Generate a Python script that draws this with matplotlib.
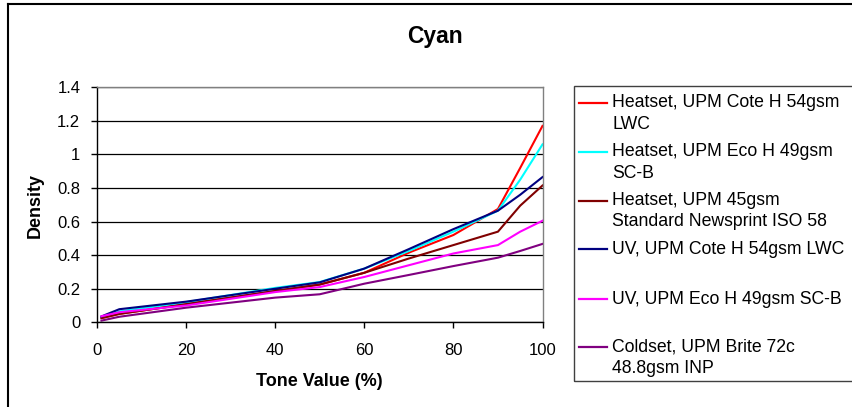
import matplotlib
matplotlib.use("Agg")
import matplotlib.pyplot as plt
from matplotlib.lines import Line2D
from matplotlib.patches import Rectangle

plt.rcParams['font.family'] = ['Liberation Sans', 'DejaVu Sans']

tone = [1, 5, 20, 40, 50, 60, 70, 80, 90, 95, 100]

heatset_cote = [0.025, 0.05, 0.108, 0.185, 0.225, 0.295, 0.415, 0.52, 0.675, 0.92, 1.17]
heatset_eco = [0.03, 0.065, 0.12, 0.205, 0.24, 0.32, 0.425, 0.54, 0.665, 0.85, 1.06]
heatset_news = [0.025, 0.05, 0.108, 0.187, 0.225, 0.295, 0.38, 0.46, 0.54, 0.695, 0.815]
uv_cote = [0.035, 0.078, 0.123, 0.2, 0.238, 0.32, 0.436, 0.555, 0.665, 0.76, 0.865]
uv_eco = [0.036, 0.06, 0.1, 0.18, 0.21, 0.27, 0.34, 0.41, 0.46, 0.54, 0.605]
coldset = [0.01, 0.033, 0.087, 0.147, 0.167, 0.23, 0.282, 0.335, 0.385, 0.425, 0.467]

series = [heatset_cote, heatset_eco, heatset_news, uv_cote, uv_eco, coldset]
labels = [
    ["Heatset, UPM Cote H 54gsm", "LWC"],
    ["Heatset, UPM Eco H 49gsm", "SC-B"],
    ["Heatset, UPM 45gsm", "Standard Newsprint ISO 58"],
    ["UV, UPM Cote H 54gsm LWC"],
    ["UV, UPM Eco H 49gsm SC-B"],
    ["Coldset, UPM Brite 72c", "48.8gsm INP"],
]
colors = ["#FF0000", "#00FFFF", "#800000", "#000080", "#FF00FF", "#800080"]

W, H = 852, 407
fig = plt.figure(figsize=(W / 100, H / 100), dpi=100)

def fx(px):
    return px / W

def fy(py):
    return 1 - py / H

ax = fig.add_axes([fx(97), fy(322.3), fx(542.5) - fx(97), fy(87.3) - fy(322.3)])
for ys, c in zip(series, colors):
    ax.plot(tone, ys, color=c, lw=1.5, solid_joinstyle='miter')

ax.set_xlim(0, 100)
ax.set_ylim(0, 1.4)
ax.set_xticks([0, 20, 40, 60, 80, 100])
ax.set_yticks([0, 0.2, 0.4, 0.6, 0.8, 1, 1.2, 1.4])
ax.set_yticklabels(["0", "0.2", "0.4", "0.6", "0.8", "1", "1.2", "1.4"])
ax.tick_params(direction='out', length=4, width=1, labelsize=12, colors='black')
ax.tick_params(axis='y', pad=8)
ax.tick_params(axis='x', pad=11)
ax.yaxis.grid(True, color='black', lw=0.9)
ax.set_axisbelow(True)
for s in ['top', 'right']:
    ax.spines[s].set_color('#808080')
    ax.spines[s].set_linewidth(1)
for s in ['left', 'bottom']:
    ax.spines[s].set_color('black')
    ax.spines[s].set_linewidth(1)

fig.text(fx(35), fy(205), "Density", rotation=90, ha='center', va='center',
         fontsize=13, fontweight='bold')
fig.text(fx(319.5), fy(381), "Tone Value (%)", ha='center', va='center',
         fontsize=13, fontweight='bold')
fig.text(fx(435), fy(36), "Cyan", ha='center', va='center',
         fontsize=16.5, fontweight='bold')

# outer chart border (extends beyond the image on right/bottom)
fig.add_artist(Line2D([fx(7.5), fx(7.5)], [fy(3.5), fy(420)], color='black', lw=1.5,
                      transform=fig.transFigure))
fig.add_artist(Line2D([fx(7.5), fx(870)], [fy(3.5), fy(3.5)], color='black', lw=1.5,
                      transform=fig.transFigure))

# legend box
fig.add_artist(Rectangle((fx(573.5), fy(381)), fx(900) - fx(573.5), fy(86) - fy(381),
                         transform=fig.transFigure, fill=False, edgecolor='#404040', lw=1))
entry_y = [102.7, 151.7, 200.7, 249.3, 299, 347.3]
for lab, c, yy in zip(labels, colors, entry_y):
    fig.add_artist(Line2D([fx(579), fx(607)], [fy(yy), fy(yy)], color=c, lw=1.6,
                          transform=fig.transFigure))
    for i, line in enumerate(lab):
        fig.text(fx(612.5), fy(yy + i * 21.3), line, ha='left', va='center',
                 fontsize=12.7)

fig.savefig("out.png", dpi=100)
